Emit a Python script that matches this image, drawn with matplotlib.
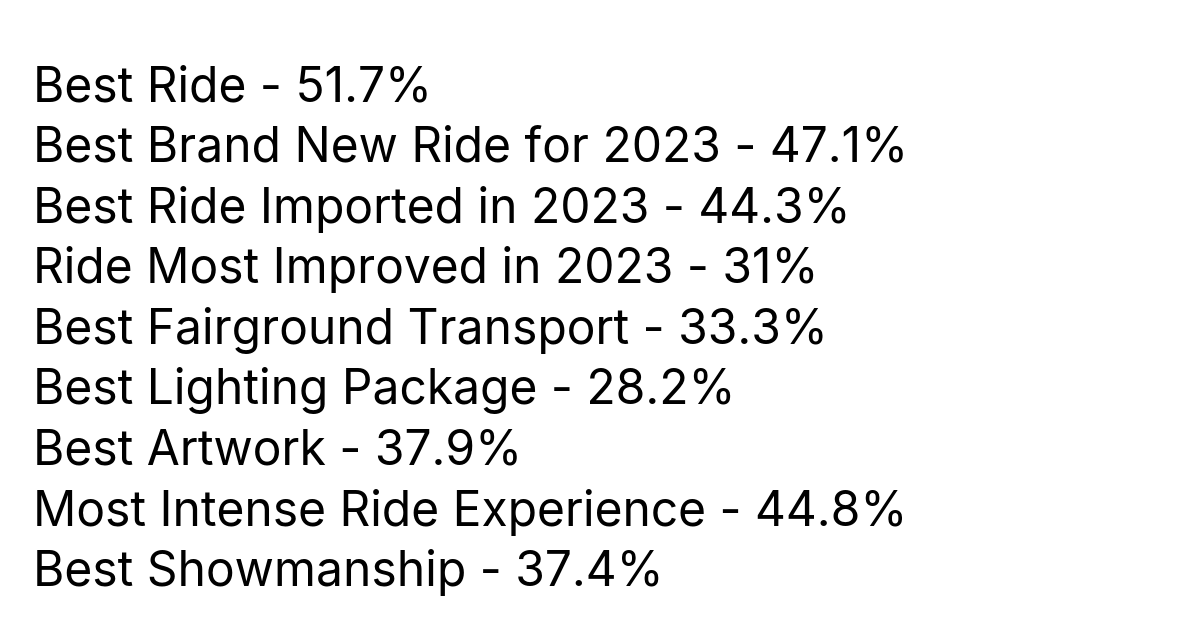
import matplotlib.pyplot as plt

categories = [
    "Best Ride",
    "Best Brand New Ride for 2023",
    "Best Ride Imported in 2023",
    "Ride Most Improved in 2023",
    "Best Fairground Transport",
    "Best Lighting Package",
    "Best Artwork",
    "Most Intense Ride Experience",
    "Best Showmanship",
]
values = ["51.7", "47.1", "44.3", "31", "33.3", "28.2", "37.9", "44.8", "37.4"]

fig = plt.figure(figsize=(11.79, 6.3), dpi=100)
fig.patch.set_facecolor("white")

# line centres in pixels from the top
top = 88
step = 60.6
for i, (cat, val) in enumerate(zip(categories, values)):
    y = 1 - (top + i * step) / 630
    fig.text(33 / 1179, y, f"{cat} - {val}%", family=["Inter", "DejaVu Sans"],
             fontsize=34.5, va="center", ha="left", color="black")

fig.savefig("out.png", dpi=100)
